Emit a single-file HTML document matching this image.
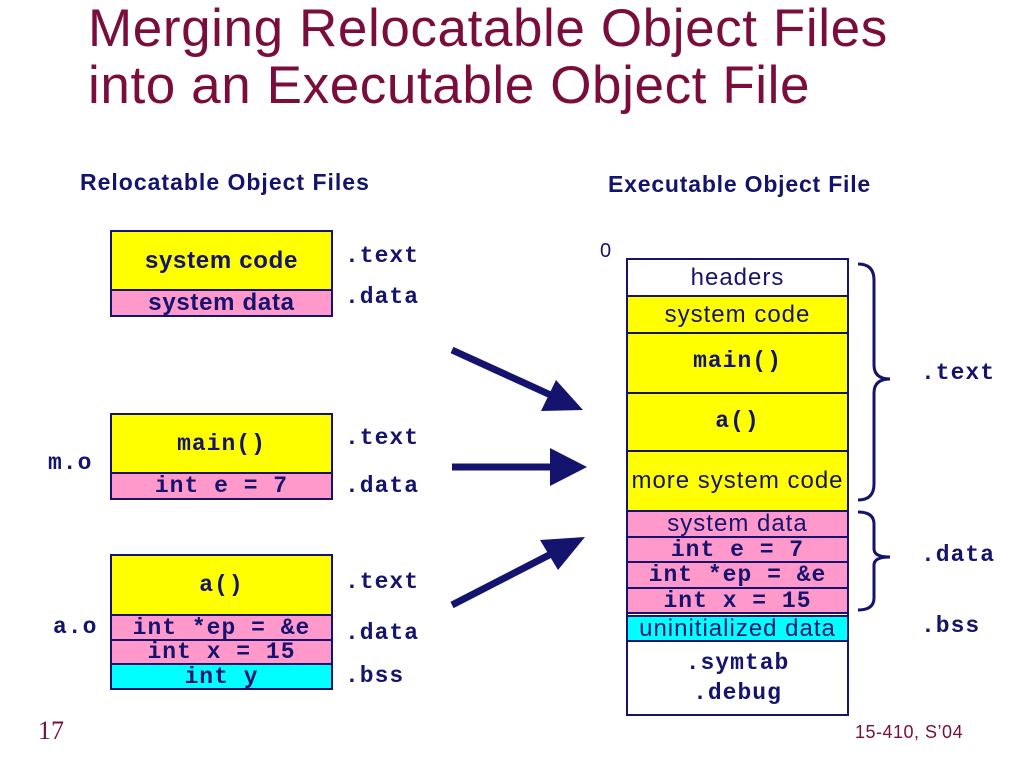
<!DOCTYPE html>
<html><head><style>
body{margin:0;width:1024px;height:768px;background:#fff;position:relative;overflow:hidden;font-family:"Liberation Sans",sans-serif}
.a{position:absolute}
.b{position:absolute;box-sizing:border-box;border:2px solid #14146e;text-align:center;color:#14146e;display:flex;align-items:center;justify-content:center;white-space:nowrap}
.m{font-family:"Liberation Mono",monospace;font-weight:bold;font-size:23px!important;letter-spacing:1px}
.s{font-size:24px;letter-spacing:0.7px;font-weight:bold}
.r{font-size:24px;letter-spacing:1px}
.y{background:#ffff00}.p{background:#ff99cc}.c{background:#00ffff}.w{background:#fff}
.l{position:absolute;font-family:"Liberation Mono",monospace;font-weight:bold;font-size:23px;letter-spacing:1px;color:#14146e}
</style></head><body>
<div class="a" style="left:88px;top:0px;font-size:53px;letter-spacing:0.6px;color:#7a0d3c;line-height:57px">Merging Relocatable Object Files<br>into an Executable Object File</div>
<div class="a" style="left:80px;top:169px;font-size:23px;letter-spacing:1px;font-weight:bold;color:#14146e">Relocatable Object Files</div>
<div class="a" style="left:608px;top:171px;font-size:23px;letter-spacing:0.8px;font-weight:bold;color:#14146e">Executable Object File</div>

<div class="b y s" style="left:110px;top:230px;width:223px;height:61px">system code</div>
<div class="b p s" style="left:110px;top:289px;width:223px;height:28px">system data</div>
<div class="l" style="left:345px;top:243px">.text</div>
<div class="l" style="left:345px;top:284px">.data</div>

<div class="b y m" style="left:110px;top:413px;width:223px;height:61px;align-items:flex-start;padding-top:16px">main()</div>
<div class="b p m" style="left:110px;top:472px;width:223px;height:28px">int e = 7</div>
<div class="l" style="left:345px;top:425px">.text</div>
<div class="l" style="left:345px;top:473px">.data</div>
<div class="l" style="left:48px;top:450px">m.o</div>

<div class="b y m" style="left:110px;top:554px;width:223px;height:62px">a()</div>
<div class="b p m" style="left:110px;top:614px;width:223px;height:27px">int *ep = &amp;e</div>
<div class="b p m" style="left:110px;top:639px;width:223px;height:26px">int x = 15</div>
<div class="b c m" style="left:110px;top:663px;width:223px;height:27px">int y</div>
<div class="l" style="left:345px;top:569px">.text</div>
<div class="l" style="left:345px;top:620px">.data</div>
<div class="l" style="left:345px;top:663px">.bss</div>
<div class="l" style="left:53px;top:614px">a.o</div>

<div class="a" style="left:600px;top:240px;font-size:20px;color:#14146e">0</div>
<div class="b w r" style="left:626px;top:258px;width:223px;height:39px">headers</div>
<div class="b y r" style="left:626px;top:295px;width:223px;height:39px">system code</div>
<div class="b y m" style="left:626px;top:332px;width:223px;height:62px;align-items:flex-start;padding-top:14px">main()</div>
<div class="b y m" style="left:626px;top:392px;width:223px;height:60px;align-items:flex-start;padding-top:14px">a()</div>
<div class="b y r" style="left:626px;top:450px;width:223px;height:62px">more system code</div>
<div class="b p r" style="left:626px;top:510px;width:223px;height:28px">system data</div>
<div class="b p m" style="left:626px;top:536px;width:223px;height:27px">int e = 7</div>
<div class="b p m" style="left:626px;top:561px;width:223px;height:28px">int *ep = &amp;e</div>
<div class="b p m" style="left:626px;top:587px;width:223px;height:27px">int x = 15</div>
<div class="a" style="left:626px;top:612px;width:223px;height:104px;box-sizing:border-box;border:2px solid #14146e;border-top:none"></div>
<div class="b c r" style="left:626px;top:615px;width:223px;height:27px">uninitialized data</div>
<div class="l" style="left:626px;top:648px;width:223px;text-align:center;line-height:30px">.symtab<br>.debug</div>
<div class="l" style="left:921px;top:360px">.text</div>
<div class="l" style="left:921px;top:542px">.data</div>
<div class="l" style="left:921px;top:613px">.bss</div>

<svg class="a" style="left:0;top:0" width="1024" height="768">
<g fill="none" stroke="#14146e" stroke-width="3">
<path d="M858,264 Q874,264 874,280 L874,365 Q874,379 890,379 Q874,379 874,393 L874,484 Q874,500 858,500"/>
<path d="M858,512 Q874,512 874,524 L874,549 Q874,557 890,557 Q874,557 874,565 L874,598 Q874,610 858,610"/>
</g>
<g stroke="#14146e" stroke-width="7" fill="#14146e">
<line x1="452" y1="350" x2="555" y2="397"/>
<line x1="452" y1="467" x2="555" y2="467"/>
<line x1="452" y1="605" x2="555" y2="552"/>
</g>
<g fill="#14146e">
<polygon points="583,410 541,411 556,380"/>
<polygon points="587,467 550,448 550,486"/>
<polygon points="585,537 558,570 540,540"/>
</g>
</svg>
<div class="a" style="left:38px;top:716px;font-family:'Liberation Serif',serif;font-size:26px;color:#7a0d3c">17</div>
<div class="a" style="left:855px;top:722px;font-size:18px;letter-spacing:0.5px;color:#7a0d3c">15-410, S’04</div>
</body></html>
